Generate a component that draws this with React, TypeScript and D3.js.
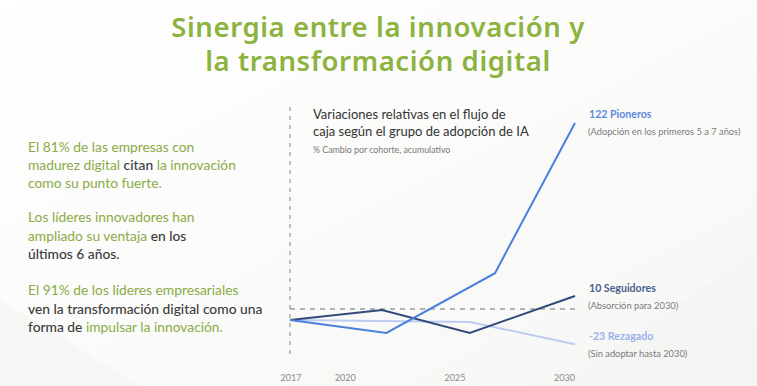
import React from "react";
import * as d3 from "d3";

const years = [2017, 2020, 2025, 2030];
const pionerosX = [2017, 2021.4, 2026.35, 2030];
const pionerosY = [0, -8, 29, 122];
const seguidoresX = [2017, 2021.2, 2025.2, 2030];
const seguidoresY = [0, 6.2, -8, 14.9];
const rezagadoX = [2017, 2025.2, 2030];
const rezagadoY = [0, -1.2, -15];
const referenceValue = 6.8;

const titleLines = ["Sinergia entre la innovación y", "la transformación digital"];
const chartTitle = ["Variaciones relativas en el flujo de", "caja según el grupo de adopción de IA"];
const chartSubtitle = "% Cambio por cohorte, acumulativo";

type Seg = [string, boolean]; // text, dark?
const leftText: Seg[][] = [
  [["El 81% de las empresas con", false]],
  [["madurez digital ", false], ["citan", true], [" la innovación", false]],
  [["como su punto fuerte.", false]],
  [["Los líderes innovadores han", false]],
  [["ampliado su ventaja ", false], ["en los", true]],
  [["últimos 6 años.", true]],
  [["El 91% de los líderes empresariales", false]],
  [["ven la transformación digital como una", true]],
  [["forma de ", true], ["impulsar la innovación.", false]],
];
const leftBaselines = [152, 170, 188, 222, 241, 259, 295, 314, 332];

const seriesLabels = [
  { value: "122 Pioneros", note: "(Adopción en los primeros 5 a 7 años)", color: "#5b87de", y: 118 },
  { value: "10 Seguidores", note: "(Absorción para 2030)", color: "#4b5f8e", y: 292 },
  { value: "-23 Rezagado", note: "(Sin adoptar hasta 2030)", color: "#98b2ea", y: 340 },
];

const W = 757;
const H = 386;

export default function App() {
  const x = d3.scaleLinear().domain([2017, 2030]).range([290, 575]);
  const y = d3.scaleLinear().domain([0, 122]).range([320, 123]);
  const line = d3
    .line<[number, number]>()
    .x((d) => x(d[0]))
    .y((d) => y(d[1]));
  const zip = (a: number[], b: number[]) => a.map((v, i) => [v, b[i]] as [number, number]);

  const green = "#8aab45";
  const dark = "#3b3b3b";
  const font = "Lato, 'Noto Sans', sans-serif";

  return (
    <div style={{ position: "fixed", left: 0, top: 0 }}>
      <svg width={W} height={H} style={{ display: "block" }}>
        <defs>
          <linearGradient id="bg" x1="0" y1="0" x2="1" y2="1">
            <stop offset="0" stopColor="#ffffff" />
            <stop offset="1" stopColor="#f6f7f4" />
          </linearGradient>
        </defs>
        <rect width={W} height={H} fill="url(#bg)" />
        <polygon points="560,386 757,250 757,386" fill="#f3f4f1" opacity={0.6} />
        <polygon points="0,390 0,300 140,386" fill="#f4f5f2" opacity={0.6} />

        {titleLines.map((t, i) => (
          <text
            key={i}
            x={378}
            y={37 + i * 34}
            textAnchor="middle"
            fontFamily="'Noto Sans', sans-serif"
            fontWeight={600}
            fontSize={27.5}
            letterSpacing={0.6}
            fill="#8cb33f"
          >
            {t}
          </text>
        ))}

        {leftText.map((segs, i) => (
          <text key={i} x={28} y={leftBaselines[i]} fontFamily={font} fontSize={13.8}>
            {segs.map(([t, d], j) => (
              <tspan key={j} fill={d ? dark : green} fontWeight={d ? 500 : 400}>
                {t}
              </tspan>
            ))}
          </text>
        ))}

        {/* vertical dashed axis */}
        <line x1={x(2017)} x2={x(2017)} y1={107} y2={355} stroke="#9a9a9a" strokeWidth={1.2} strokeDasharray="4 5" />
        {/* reference dashed line */}
        <line
          x1={x(2017)}
          x2={x(2030)}
          y1={y(referenceValue)}
          y2={y(referenceValue)}
          stroke="#9a9a9a"
          strokeWidth={1.3}
          strokeDasharray="5 5"
        />

        {chartTitle.map((t, i) => (
          <text key={i} x={313} y={119 + i * 17} fontFamily={font} fontSize={13} fill="#333">
            {t}
          </text>
        ))}
        <text x={313} y={153} fontFamily={font} fontSize={8.8} fill="#777">
          {chartSubtitle}
        </text>

        <path d={line(zip(rezagadoX, rezagadoY)) || ""} fill="none" stroke="#bccdf1" strokeWidth={2} />
        <path d={line(zip(seguidoresX, seguidoresY)) || ""} fill="none" stroke="#33497a" strokeWidth={2} />
        <path d={line(zip(pionerosX, pionerosY)) || ""} fill="none" stroke="#4a7fdc" strokeWidth={2} />

        {seriesLabels.map((s, i) => (
          <g key={i}>
            <text x={589} y={s.y} fontFamily={font} fontSize={10.6} fontWeight={700} fill={s.color}>
              {s.value}
            </text>
            <text x={588} y={s.y + 17} fontFamily={font} fontSize={9.3} fill="#7a7a7a">
              {s.note}
            </text>
          </g>
        ))}

        {years.map((yr, i) => (
          <text
            key={yr}
            x={i === 0 ? x(yr) + 1 : x(yr)}
            y={381}
            textAnchor={i === 0 ? "middle" : "end"}
            fontFamily={font}
            fontSize={9}
            fill="#8a8a8a"
          >
            {yr}
          </text>
        ))}
      </svg>
    </div>
  );
}
